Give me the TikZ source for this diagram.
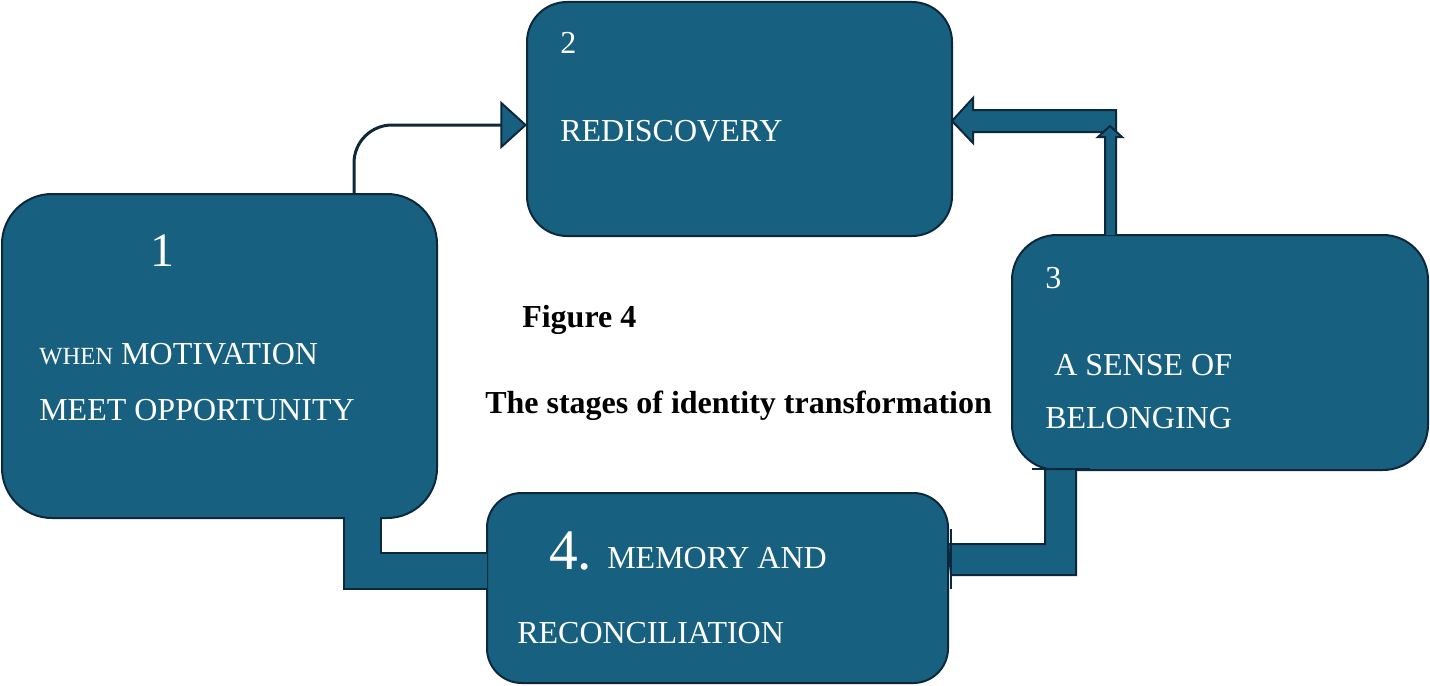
\documentclass[tikz,border=0pt]{standalone}
\usepackage{fontspec}
\setmainfont{Liberation Serif}
\usetikzlibrary{arrows.meta}
\definecolor{boxfill}{RGB}{24,96,128}
\definecolor{edgec}{RGB}{12,40,58}
\begin{document}
\begin{tikzpicture}[x=0.75pt,y=-0.75pt,
  stage/.style={draw=edgec,fill=boxfill,line width=1.5pt,inner sep=0pt,outer sep=0pt,rectangle},
  lbl/.style={text=white,anchor=base west,inner sep=0pt,font=\fontsize{24}{28}\selectfont},
  bignum/.style={text=white,anchor=base west,inner sep=0pt},
  captxt/.style={text=black,anchor=base west,inner sep=0pt,font=\fontsize{24}{28}\selectfont\bfseries},
  bar/.style={draw=edgec,fill=boxfill,line width=1.5pt,line join=miter},
  edgeline/.style={draw=edgec,line width=1.5pt}]
\useasboundingbox (0,0) rectangle (1430,685);

% helper coordinates
\coordinate (p1) at (354,0);
\coordinate (q1) at (0,125);
\coordinate (q2) at (0,121);

% stage boxes
\node[stage,rounded corners=37.5pt,minimum width=326.25pt,minimum height=243pt] (b1) at (219.5,356) {};
\node[stage,rounded corners=30pt,minimum width=318.75pt,minimum height=175.5pt] (b2) at (739.5,119) {};
\node[stage,rounded corners=33.75pt,minimum width=312pt,minimum height=176.25pt] (b3) at (1220,352.5) {};
\node[stage,rounded corners=26pt,minimum width=345.75pt,minimum height=142.5pt] (b4) at (717.5,588) {};

% connector 1 -> 2
\draw[line width=2.25pt,draw=edgec,rounded corners=28.5pt,
  -{Triangle[length=20pt,width=36pt,fill=boxfill,line width=1.5pt]}]
  (b1.north -| p1) |- (b2.west |- q1);

% connector 3 -> 2 (block arrow)
\path[bar] (1116,110) -- (973,110) -- (973,98) -- (b2.east |- q2) -- (973,143) -- (973,132) -- (1116,132) -- cycle;
\path[bar] (1105,235) -- (1105,137) -- (1098,137) -- (1110,126) -- (1122,137) -- (1116,137) -- (1116,235);

% connector 4 -> 3 (elbow bar with tees)
\path[bar] (b4.east |- 0,544) -- (1045,544) -- (1045,469) -- (1076,469) -- (1076,575) -- (951,575) -- cycle;
\draw[edgeline] (951,529) -- (951,589);
\draw[edgeline] (1032,469) -- (1090,469);

% connector 1 -> 4 (elbow bar)
\fill[boxfill] (344,517) -- (344,589) -- (b4.west |- 0,589) -- (b4.west |- 0,553) -- (381,553) -- (381,517) -- cycle;
\draw[edgeline,line join=miter] (344,517) -- (344,589) -- (b4.west |- 0,589);
\draw[edgeline,line join=miter] (b4.west |- 0,553) -- (381,553) -- (381,517);

% texts
\node[bignum,font=\fontsize{36}{40}\selectfont] (t1n) at (150,266) {1};
\node[lbl] (t1a) at (39,364) {{\fontsize{18.5}{20}\selectfont WHEN} MOTIVATION};
\node[lbl] (t1b) at (39,420) {MEET OPPORTUNITY};

\node[lbl] (t2n) at (560,54) {2};
\node[lbl] (t2a) at (560,141) {REDISCOVERY};

\node[lbl] (t3n) at (1045,288) {3};
\node[lbl] (t3a) at (1054,375) {A SENSE OF};
\node[lbl] (t3b) at (1045,428) {BELONGING};

\node[bignum,font=\fontsize{43}{46}\selectfont] (t4n) at (549,569) {4.};
\node[lbl] (t4a) at (607,568) {MEMORY AND};
\node[lbl] (t4b) at (517,643) {RECONCILIATION};

\node[captxt] (f1) at (522,327) {Figure 4};
\node[captxt] (f2) at (485,413) {The stages of identity transformation};
\end{tikzpicture}
\end{document}
